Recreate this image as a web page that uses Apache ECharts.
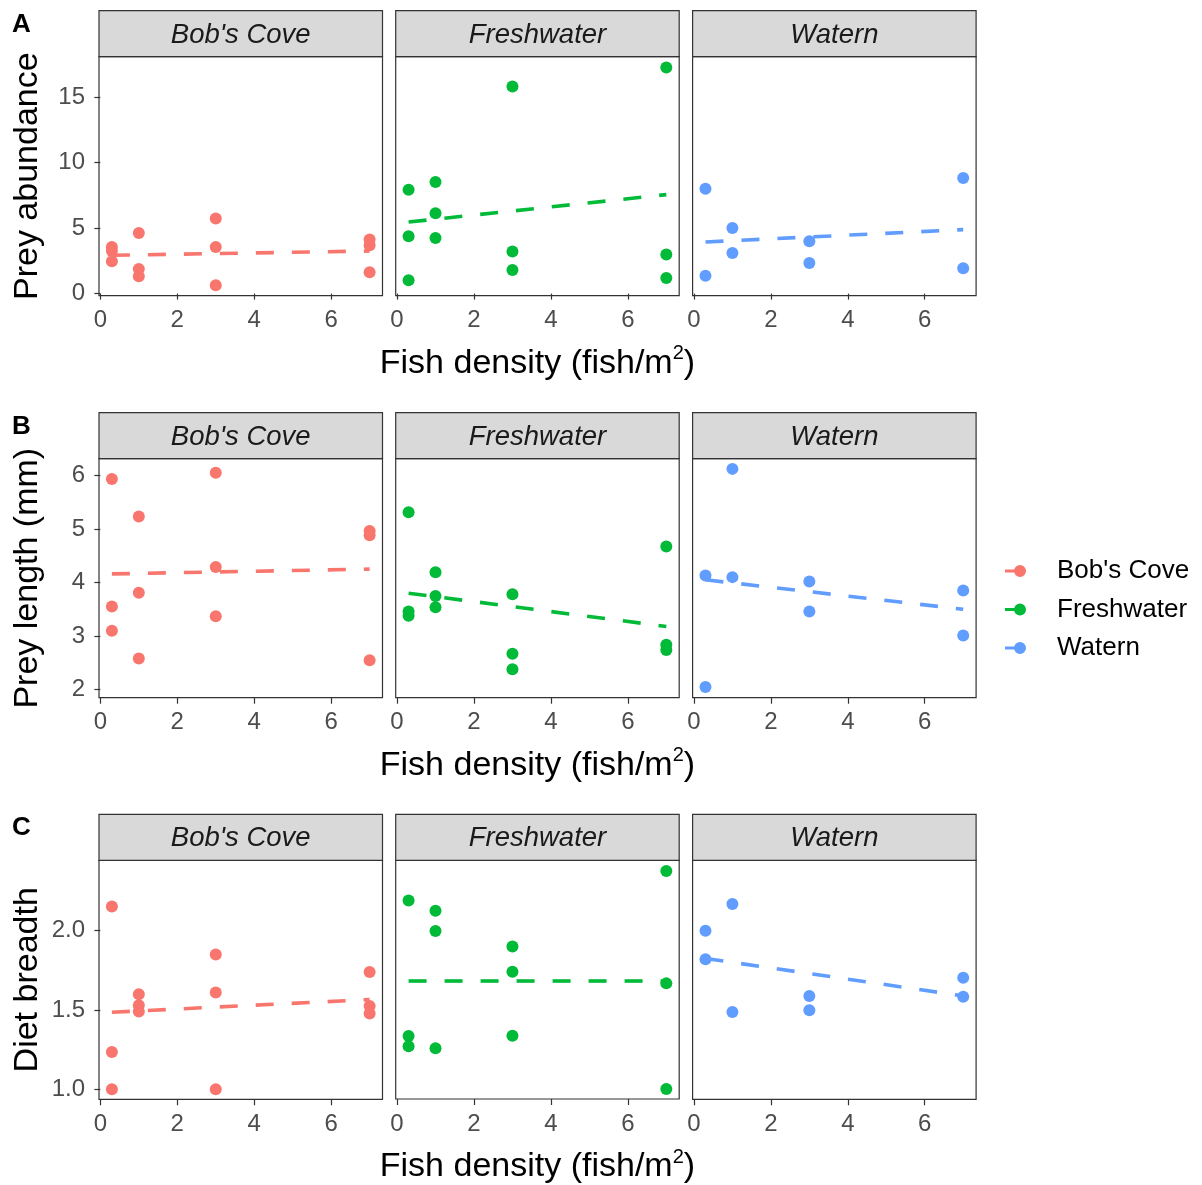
<!DOCTYPE html>
<html>
<head>
<meta charset="utf-8">
<script src="https://cdn.jsdelivr.net/npm/echarts@6/dist/echarts.min.js"></script>
<style>
  html, body { margin: 0; padding: 0; background: #fff; }
  #chart { width: 1202px; height: 1185px; }
</style>
</head>
<body>
<div id="chart"></div>
<script>
// Sites (facet columns) and their colours
const sites = ["Bob's Cove", "Freshwater", "Watern"];
const siteColors = ['#F8766D', '#00BA38', '#619CFF'];

// Tick values
const xTicks = [0, 2, 4, 6];
const yTicksAbundance = [0, 5, 10, 15];
const yTicksLength = [2, 3, 4, 5, 6];
const yTicksBreadth = [1.0, 1.5, 2.0];

// Prey abundance: [fish density, value]
const abundanceBobsCove = [[0.3, 3.55], [0.3, 3.25], [0.3, 2.46], [1, 4.62], [1, 1.88], [1, 1.32], [3, 5.72], [3, 3.56], [3, 0.63], [7, 4.12], [7, 3.68], [7, 1.63]];
const abundanceFreshwater = [[0.3, 7.93], [0.3, 4.37], [0.3, 1.01], [1, 8.51], [1, 6.12], [1, 4.24], [3, 15.8], [3, 3.22], [3, 1.80], [7, 17.25], [7, 2.99], [7, 1.19]];
const abundanceWatern = [[0.3, 8.0], [0.3, 1.37], [1, 5.0], [1, 3.1], [3, 4.0], [3, 2.34], [7, 8.82], [7, 1.93]];

// Prey length (mm)
const lengthBobsCove = [[0.3, 5.93], [0.3, 3.55], [0.3, 3.10], [1, 5.23], [1, 3.81], [1, 2.58], [3, 6.05], [3, 4.29], [3, 3.37], [7, 4.96], [7, 4.88], [7, 2.55]];
const lengthFreshwater = [[0.3, 5.31], [0.3, 3.46], [0.3, 3.38], [1, 4.19], [1, 3.75], [1, 3.54], [3, 3.78], [3, 2.67], [3, 2.38], [7, 4.67], [7, 2.84], [7, 2.74]];
const lengthWatern = [[0.3, 4.13], [0.3, 2.05], [1, 6.12], [1, 4.10], [3, 4.02], [3, 3.46], [7, 3.85], [7, 3.01]];

// Diet breadth
const breadthBobsCove = [[0.3, 2.153], [0.3, 1.235], [0.3, 1.0], [1, 1.60], [1, 1.53], [1, 1.49], [3, 1.85], [3, 1.61], [3, 1.0], [7, 1.74], [7, 1.526], [7, 1.478]];
const breadthFreshwater = [[0.3, 2.19], [0.3, 1.335], [0.3, 1.27], [1, 2.125], [1, 1.997], [1, 1.257], [3, 1.90], [3, 1.74], [3, 1.337], [7, 2.376], [7, 1.667], [7, 1.0]];
const breadthWatern = [[0.3, 2.0], [0.3, 1.82], [1, 2.168], [1, 1.488], [3, 1.589], [3, 1.499], [7, 1.703], [7, 1.583]];

// Linear fits: value at the lowest and highest density, per site
const fitX = [0.3, 7];
const abundanceFit = [[2.92, 3.25], [5.46, 7.55], [3.94, 4.88]];
const lengthFit = [[4.16, 4.25], [3.80, 3.18], [4.05, 3.50]];
const breadthFit = [[1.486, 1.566], [1.682, 1.682], [1.825, 1.589]];

// Row definitions
const rows = [
  { letter: 'A', title: 'Prey abundance', data: [abundanceBobsCove, abundanceFreshwater, abundanceWatern], fit: abundanceFit, ticks: yTicksAbundance, min: -0.16, max: 18.07, fmt: v => String(v) },
  { letter: 'B', title: 'Prey length (mm)', data: [lengthBobsCove, lengthFreshwater, lengthWatern], fit: lengthFit, ticks: yTicksLength, min: 1.85, max: 6.31, fmt: v => String(v) },
  { letter: 'C', title: 'Diet breadth', data: [breadthBobsCove, breadthFreshwater, breadthWatern], fit: breadthFit, ticks: yTicksBreadth, min: 0.937, max: 2.444, fmt: v => v.toFixed(1) }
];

// Layout
const FONT = "'Liberation Sans', Arial, Helvetica, sans-serif";
const colLeft = [99, 395.7, 692.6];
const panelW = 283.5;
const rowTop = [56.7, 458.7, 860.3];
const panelH = 239;
const stripH = 46;

const grids = [], xAxes = [], yAxes = [], series = [], graphics = [];

rows.forEach((row, r) => {
  graphics.push({
    type: 'text', left: 12, top: rowTop[r] - stripH + 1,
    style: { text: row.letter, font: 'bold 26px ' + FONT, fill: '#000' }
  });
  sites.forEach((site, c) => {
    const idx = r * 3 + c;
    grids.push({
      left: colLeft[c], top: rowTop[r], width: panelW, height: panelH,
      show: true, borderColor: '#333333', borderWidth: 1.2, backgroundColor: '#fff', containLabel: false
    });
    // facet strip
    graphics.push({
      type: 'rect', z: 10,
      shape: { x: colLeft[c], y: rowTop[r] - stripH, width: panelW, height: stripH },
      style: { fill: '#d9d9d9', stroke: '#333333', lineWidth: 1.2 }
    });
    graphics.push({
      type: 'text', z: 11,
      x: colLeft[c] + panelW / 2, y: rowTop[r] - stripH / 2 + 1.5,
      style: { text: site, font: 'italic 27.5px ' + FONT, fill: '#1a1a1a', align: 'center', verticalAlign: 'middle' }
    });

    const xAxis = {
      type: 'value', gridIndex: idx, min: -0.035, max: 7.335,
      axisLine: { show: false },
      axisTick: { show: true, customValues: xTicks, length: 6, lineStyle: { color: '#333333', width: 1.2 } },
      axisLabel: { show: true, customValues: xTicks, fontSize: 24, color: '#4d4d4d', margin: 13, fontFamily: FONT },
      splitLine: { show: false }
    };
    if (c === 1) {
      xAxis.name = '{t|Fish density (fish/m}{s|2}{t|)}';
      xAxis.nameLocation = 'middle';
      xAxis.nameGap = 48;
      xAxis.nameTextStyle = {
        rich: {
          t: { fontSize: 34, color: '#000', lineHeight: 40, fontFamily: FONT },
          s: { fontSize: 20, color: '#000', lineHeight: 20, verticalAlign: 'top', fontFamily: FONT }
        }
      };
    }
    xAxes.push(xAxis);

    const yAxis = {
      type: 'value', gridIndex: idx, min: row.min, max: row.max,
      axisLine: { show: false },
      axisTick: { show: c === 0, customValues: row.ticks, length: 6, lineStyle: { color: '#333333', width: 1.2 } },
      axisLabel: { show: c === 0, customValues: row.ticks, fontSize: 24, color: '#4d4d4d', margin: 14, fontFamily: FONT, formatter: row.fmt },
      splitLine: { show: false }
    };
    if (c === 0) {
      yAxis.name = row.title;
      yAxis.nameLocation = 'middle';
      yAxis.nameRotate = 90;
      yAxis.nameGap = 54;
      yAxis.nameTextStyle = { fontSize: 34, color: '#000', fontFamily: FONT };
    }
    yAxes.push(yAxis);

    series.push({
      type: 'scatter', name: site, xAxisIndex: idx, yAxisIndex: idx,
      data: row.data[c], symbol: 'circle', symbolSize: 12,
      itemStyle: { color: siteColors[c], opacity: 1 }, color: siteColors[c], z: 3
    });
    series.push({
      type: 'line', name: site, xAxisIndex: idx, yAxisIndex: idx,
      data: fitX.map((x, k) => [x, row.fit[c][k]]),
      showSymbol: false, symbol: 'none', color: siteColors[c],
      lineStyle: { color: siteColors[c], width: 3.6, type: [18, 18], cap: 'butt' }, z: 4
    });
  });
});

const legendIcon = 'path://M0,4.6L15,4.6L15,7.4L0,7.4Z M9,6A6,6,0,1,1,21,6A6,6,0,1,1,9,6Z';

const chart = echarts.init(document.getElementById('chart'), null, { renderer: 'canvas' });
chart.setOption({
  animation: false,
  backgroundColor: '#fff',
  textStyle: { fontFamily: FONT },
  grid: grids,
  xAxis: xAxes,
  yAxis: yAxes,
  series: series,
  legend: {
    orient: 'vertical', left: 1000, top: 553,
    itemWidth: 21, itemHeight: 12, itemGap: 12.5,
    selectedMode: false,
    data: sites.map((s, i) => ({ name: s, icon: legendIcon, itemStyle: { color: siteColors[i] } })),
    textStyle: { fontSize: 26, color: '#000', fontFamily: FONT, lineHeight: 24, padding: [0, 0, 0, 26] }
  },
  graphic: graphics
});
</script>
</body>
</html>
